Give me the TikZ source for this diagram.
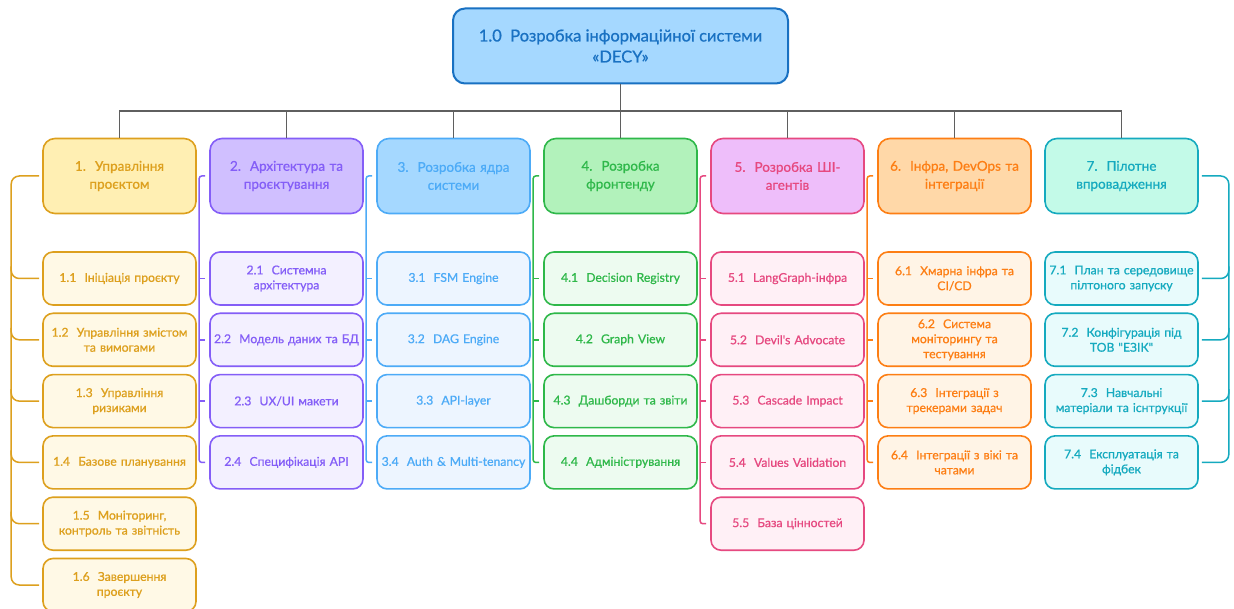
\documentclass[tikz,border=0pt]{standalone}
\usepackage{fontspec}
\newfontfamily\ufont{Lato}[FakeBold=0.8]

% stroke, header fill and leaf fill for every branch of the tree
\definecolor{c0}{HTML}{1971C2}\definecolor{c0hd}{HTML}{A5D8FF}
\definecolor{c1}{HTML}{DDA01E}\definecolor{c1hd}{HTML}{FFEFB3}\definecolor{c1lf}{HTML}{FFF9E6}
\definecolor{c2}{HTML}{845EF7}\definecolor{c2hd}{HTML}{D0BFFF}\definecolor{c2lf}{HTML}{F3F0FF}
\definecolor{c3}{HTML}{4DABF7}\definecolor{c3hd}{HTML}{A5D8FF}\definecolor{c3lf}{HTML}{EDF5FF}
\definecolor{c4}{HTML}{2FB84A}\definecolor{c4hd}{HTML}{B2F2BB}\definecolor{c4lf}{HTML}{EDFBF0}
\definecolor{c5}{HTML}{E64980}\definecolor{c5hd}{HTML}{EEBEFA}\definecolor{c5lf}{HTML}{FFF0F6}
\definecolor{c6}{HTML}{FD7E14}\definecolor{c6hd}{HTML}{FFD8A8}\definecolor{c6lf}{HTML}{FFF4E6}
\definecolor{c7}{HTML}{15AABF}\definecolor{c7hd}{HTML}{C3FAE8}\definecolor{c7lf}{HTML}{E8FBFC}
\definecolor{busline}{HTML}{5F5F5F}

\tikzset{
  box/.style={rectangle, align=center, inner xsep=3pt, inner ysep=2pt,
    text width=147pt, minimum width=153pt, line width=1.6pt},
  hdr/.style={box, draw=#1, text=#1, fill=#1hd, minimum height=75pt,
    rounded corners=12pt, font=\ufont\fontsize{13.5}{18}\selectfont},
  leaf/.style={box, draw=#1, text=#1, fill=#1lf, minimum height=53pt,
    rounded corners=10pt, font=\ufont\fontsize{12.2}{15}\selectfont},
  rootbox/.style={rectangle, align=center, draw=c0, text=c0, fill=c0hd,
    minimum width=335pt, minimum height=75pt, line width=2pt,
    rounded corners=12pt, font=\ufont\fontsize{16.5}{21}\selectfont},
  bus/.style={draw=busline, line width=1.8pt},
  brk/.style={draw=#1, line width=1.5pt},
}

\begin{document}
\begin{tikzpicture}[x=1pt,y=-1pt]
\fill[white] (0,0) rectangle (1234,609);
\useasboundingbox (0,0) rectangle (1234,609);

% root
\node[rootbox] (top) at (620.5,46) {1.0~~Розробка інформаційної системи\\«DECY»};

% first-level work packages
\node[hdr=c1] (h1) at (119.5,176) {1.~~Управління\\проєктом};
\node[hdr=c2] (h2) at (286.5,176) {2.~~Архітектура та\\проєктування};
\node[hdr=c3] (h3) at (453.5,176) {3.~~Розробка ядра\\системи};
\node[hdr=c4] (h4) at (620.5,176) {4.~~Розробка\\фронтенду};
\node[hdr=c5] (h5) at (787.5,176) {5.~~Розробка ШІ-\\агентів};
\node[hdr=c6] (h6) at (954.5,176) {6.~~Інфра, DevOps та\\інтеграції};
\node[hdr=c7] (h7) at (1121.5,176) {7.~~Пілотне\\впровадження};

% 1
\node[leaf=c1] (c1-1) at (119.5,278.5) {1.1~~Ініціація проєкту};
\node[leaf=c1] (c1-2) at (119.5,339.8) {1.2~~Управління змістом\\та вимогами};
\node[leaf=c1] (c1-3) at (119.5,401.1) {1.3~~Управління\\ризиками};
\node[leaf=c1] (c1-4) at (119.5,462.4) {1.4~~Базове планування};
\node[leaf=c1] (c1-5) at (119.5,523.7) {1.5~~Моніторинг,\\контроль та звітність};
\node[leaf=c1] (c1-6) at (119.5,585) {1.6~~Завершення\\проєкту};
% 2
\node[leaf=c2] (c2-1) at (286.5,278.5) {2.1~~Системна\\архітектура};
\node[leaf=c2] (c2-2) at (286.5,339.8) {2.2~~Модель даних та БД};
\node[leaf=c2] (c2-3) at (286.5,401.1) {2.3~~UX/UI макети};
\node[leaf=c2] (c2-4) at (286.5,462.4) {2.4~~Специфікація API};
% 3
\node[leaf=c3] (c3-1) at (453.5,278.5) {3.1~~FSM Engine};
\node[leaf=c3] (c3-2) at (453.5,339.8) {3.2~~DAG Engine};
\node[leaf=c3] (c3-3) at (453.5,401.1) {3.3~~API-layer};
\node[leaf=c3] (c3-4) at (453.5,462.4) {3.4~~Auth \& Multi-tenancy};
% 4
\node[leaf=c4] (c4-1) at (620.5,278.5) {4.1~~Decision Registry};
\node[leaf=c4] (c4-2) at (620.5,339.8) {4.2~~Graph View};
\node[leaf=c4] (c4-3) at (620.5,401.1) {4.3~~Дашборди та звіти};
\node[leaf=c4] (c4-4) at (620.5,462.4) {4.4~~Адміністрування};
% 5
\node[leaf=c5] (c5-1) at (787.5,278.5) {5.1~~LangGraph-інфра};
\node[leaf=c5] (c5-2) at (787.5,339.8) {5.2~~Devil's Advocate};
\node[leaf=c5] (c5-3) at (787.5,401.1) {5.3~~Cascade Impact};
\node[leaf=c5] (c5-4) at (787.5,462.4) {5.4~~Values Validation};
\node[leaf=c5] (c5-5) at (787.5,523.7) {5.5~~База цінностей};
% 6
\node[leaf=c6] (c6-1) at (954.5,278.5) {6.1~~Хмарна інфра та\\CI/CD};
\node[leaf=c6] (c6-2) at (954.5,339.8) {6.2~~Система\\моніторингу та\\тестування};
\node[leaf=c6] (c6-3) at (954.5,401.1) {6.3~~Інтеграції з\\трекерами задач};
\node[leaf=c6] (c6-4) at (954.5,462.4) {6.4~~Інтеграції з вікі та\\чатами};
% 7
\node[leaf=c7] (c7-1) at (1121.5,278.5) {7.1~~План та середовище\\пілтоного запуску};
\node[leaf=c7] (c7-2) at (1121.5,339.8) {7.2~~Конфігурація під\\ТОВ "ЕЗІК"};
\node[leaf=c7] (c7-3) at (1121.5,401.1) {7.3~~Навчальні\\матеріали та існтрукції};
\node[leaf=c7] (c7-4) at (1121.5,462.4) {7.4~~Експлуатація та\\фідбек};

% bus from the root to the work packages
\draw[bus] (h1.north) -- ++(0,-27) coordinate (bl) -| (h7.north);
\draw[bus] (top.south) -- (top.south |- bl);
\foreach \h in {h2,h3,h4,h5,h6}
  \draw[bus] (\h.north) -- (\h.north |- bl);

% package 1: wide bracket on the left
\draw[brk=c1, rounded corners=8pt] ([xshift=-3pt]h1.west) -- ([xshift=-31pt]h1.west) |- ([xshift=-3pt]c1-6.west);
\foreach \k in {1,...,5}
  \draw[brk=c1, rounded corners=8pt] ([xshift=-31pt,yshift=12pt]c1-\k.west) |- ([xshift=-3pt]c1-\k.west);

% packages 2-6: narrow brackets
\foreach \c/\n in {2/4,3/4,4/4,5/5,6/4}{
  \draw[brk=c\c, rounded corners=2.5pt] ([xshift=-4pt]h\c.west) -- ([xshift=-10pt]h\c.west) |- ([xshift=-4pt]c\c-\n.west);
  \pgfmathtruncatemacro\m{\n-1}
  \foreach \k in {1,...,\m}
    \draw[brk=c\c] ([xshift=-10pt]c\c-\k.west) -- ([xshift=-4pt]c\c-\k.west);
}

% package 7: wide bracket on the right
\draw[brk=c7, rounded corners=8pt] ([xshift=3pt]h7.east) -- ([xshift=30pt]h7.east) |- ([xshift=3pt]c7-4.east);
\foreach \k in {1,2,3}
  \draw[brk=c7, rounded corners=8pt] ([xshift=30pt,yshift=12pt]c7-\k.east) |- ([xshift=3pt]c7-\k.east);
\end{tikzpicture}
\end{document}
